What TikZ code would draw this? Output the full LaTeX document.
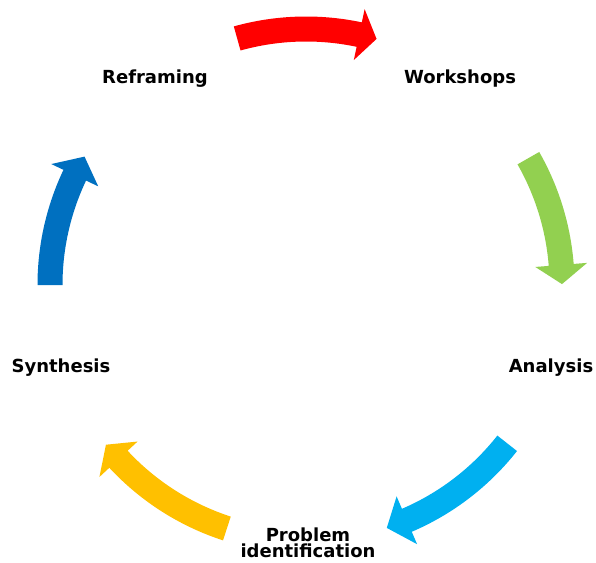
\documentclass[tikz,border=0pt]{standalone}
\usepackage{fontspec}
\setmainfont{DejaVu Sans}

\definecolor{arrRed}{HTML}{FF0000}
\definecolor{arrGreen}{HTML}{92D050}
\definecolor{arrCyan}{HTML}{00B0F0}
\definecolor{arrGold}{HTML}{FFC000}
\definecolor{arrBlue}{HTML}{0070C0}

% curved block arrow on the cycle ring: colour, tail angle, neck angle, tip angle
\newcommand\cyclearrow[4]{%
  \fill[#1] (#2:\rOut) arc[start angle=#2, end angle=#3, radius=\rOut]
    -- (#3:\hOut) -- (#4:\rMid) -- (#3:\hIn) -- (#3:\rIn)
    arc[start angle=#3, end angle=#2, radius=\rIn] -- cycle;}

\begin{document}
\begin{tikzpicture}[x=0.75pt,y=0.75pt,
  lbl/.style={font=\bfseries\fontsize{13.5}{12}\selectfont, inner sep=0pt, align=center}]
\useasboundingbox (0,0) rectangle (596,562);

\def\rMid{256}
\def\rIn{243.5}
\def\rOut{268.5}
\def\hIn{230}
\def\hOut{282}

\begin{scope}[shift={(306,277)}]
  \cyclearrow{arrBlue}{180}{154.6}{149.9}
  \cyclearrow{arrRed}{105.6}{78}{74}
  \cyclearrow{arrGreen}{29.7}{4.5}{0.2}
  \cyclearrow{arrCyan}{-38.2}{-66.8}{-71.6}
  \cyclearrow{arrGold}{-108}{-137.1}{-141.4}
\end{scope}

\node[lbl, anchor=base] (reframing) at (155,479) {Reframing};
\node[lbl, anchor=base] (workshops) at (460,479) {Workshops};
\node[lbl, anchor=base] (analysis)  at (551,190) {Analysis};
\node[lbl, anchor=base] (synthesis) at (61,190)  {Synthesis};
\node[lbl, anchor=base] (problem)   at (308,5)   {Problem\\identification};
\end{tikzpicture}
\end{document}
